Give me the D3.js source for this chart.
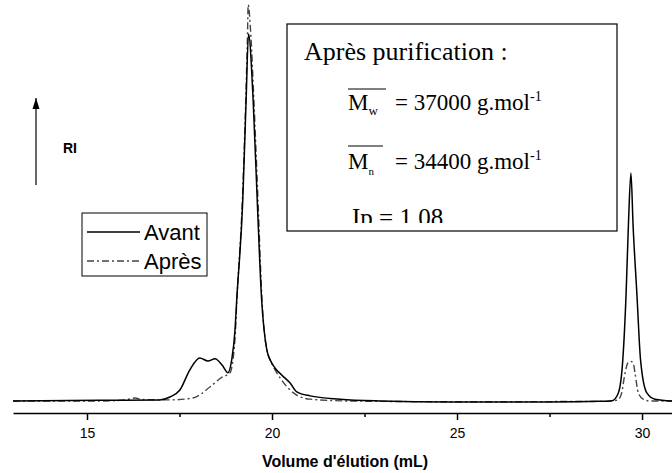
<!DOCTYPE html>
<html><head><meta charset="utf-8">
<script src="https://cdn.jsdelivr.net/npm/d3@7"></script>
<style>
html,body{margin:0;padding:0;background:#fff;}
svg{display:block;}
</style></head>
<body>
<svg id="chart" width="672" height="473"></svg>
<script>
// ---- data ----
const avantVol = [13.0,15.35,16.97,17.24,17.51,17.78,18.05,18.27,18.46,18.65,18.81,18.91,19.0,19.046,19.21,19.30,19.365,19.49,19.60,19.72,19.86,19.95,20.08,20.26,20.49,20.67,21.03,21.84,22.92,24.81,27.51,28.86,29.19,29.36,29.48,29.57,29.63,29.70,29.76,29.86,29.96,30.13,30.35,30.81];
const avantRI  = [0,0.2,0.3,1.1,3.0,8.5,11.7,10.9,11.5,9.8,7.7,11.2,19.3,27.5,54.8,82.0,100,82.0,54.8,27.5,13.9,11.2,9.0,7.1,4.9,2.5,1.4,0.5,0,-0.3,-0.3,-0.1,0.1,2.2,11.2,29.4,47.4,62.1,47.4,29.4,11.2,2.2,0.5,0];
const apresVol = [13.0,15.35,16.03,16.3,16.49,17.24,17.86,18.32,18.65,18.86,19.0,19.05,19.2,19.29,19.34,19.355,19.42,19.51,19.62,19.73,19.86,19.99,20.26,20.67,21.03,22.1,25.0,29.0,29.35,29.45,29.54,29.62,29.69,29.76,29.81,29.9,30.03,30.22,30.81];
const apresRI  = [0,0,0.3,0.8,0.4,0.3,0.8,3.8,6.5,7.6,17,27.5,55,82,101,108,101,82,55,27.5,13.9,10.4,5.7,1.6,0.5,0,-0.2,-0.1,0.3,2.2,7.6,10.4,10.8,10.4,7.6,2.2,0.5,0,0];
const xTicks = [15,20,25,30];
const xMinorTicks = [17.5,22.5,27.5];
const seriesNames = ["Avant","Après"];

const svg = d3.select("#chart");
const x = d3.scaleLinear().domain([13, 30.81]).range([13, 672]);
const y = d3.scaleLinear().domain([0, 100]).range([401, 34]);
const sans = "Arial, 'Liberation Sans', sans-serif";
const serif = "'Times New Roman', 'Liberation Serif', serif";

// axis
const axisY = 413;
const xAxis = d3.axisBottom(x).tickValues(xTicks).tickSize(7).tickSizeOuter(0).tickPadding(8).tickFormat(d3.format("d"));
const gx = svg.append("g").attr("transform", `translate(0,${axisY})`).call(xAxis);
gx.select(".domain").attr("stroke", "#000").attr("stroke-width", 1.5);
gx.selectAll(".tick line").attr("stroke", "#000").attr("stroke-width", 1.5);
gx.selectAll(".tick text").attr("font-family", sans).attr("font-size", 14).attr("fill", "#000");
const gm = svg.append("g").attr("transform", `translate(0,${axisY})`)
  .call(d3.axisBottom(x).tickValues(xMinorTicks).tickSize(4).tickSizeOuter(0).tickFormat(""));
gm.select(".domain").remove();
gm.selectAll(".tick line").attr("stroke", "#000").attr("stroke-width", 1.5);

svg.append("text").attr("x", 345).attr("y", 467).attr("text-anchor", "middle")
  .attr("font-family", sans).attr("font-weight", "bold").attr("font-size", 16)
  .text("Volume d'élution (mL)");

// curves
const line = d3.line().x(d => x(d[0])).y(d => y(d[1])).curve(d3.curveMonotoneX);
const avant = avantVol.map((v, i) => [v, avantRI[i]]);
const apres = apresVol.map((v, i) => [v, apresRI[i]]);
svg.append("path").datum(apres).attr("d", line).attr("fill", "none")
  .attr("stroke", "#444").attr("stroke-width", 1.4).attr("stroke-dasharray", "7,3,2,3");
svg.append("path").datum(avant).attr("d", line).attr("fill", "none")
  .attr("stroke", "#000").attr("stroke-width", 1.5);

// RI arrow
const defs = svg.append("defs");
defs.append("marker").attr("id", "arr").attr("viewBox", "0 0 10 10")
  .attr("refX", 10).attr("refY", 5).attr("markerWidth", 11).attr("markerHeight", 11)
  .attr("markerUnits", "userSpaceOnUse").attr("orient", "auto")
  .append("path").attr("d", "M0,1.8 L10,5 L0,8.2 Z").attr("fill", "#000");
defs.append("clipPath").attr("id", "ipclip").append("rect")
  .attr("x", 287).attr("y", 24).attr("width", 330).attr("height", 199);
svg.append("line").attr("x1", 36).attr("y1", 185).attr("x2", 36).attr("y2", 98)
  .attr("stroke", "#000").attr("stroke-width", 1.2).attr("marker-end", "url(#arr)");
svg.append("text").attr("x", 70).attr("y", 153).attr("text-anchor", "middle")
  .attr("font-family", sans).attr("font-weight", "bold").attr("font-size", 14)
  .text("RI");

// legend
const lg = svg.append("g");
lg.append("rect").attr("x", 82).attr("y", 213).attr("width", 125).attr("height", 63)
  .attr("fill", "#fff").attr("stroke", "#000").attr("stroke-width", 1);
const legY = [232, 261];
seriesNames.forEach((name, i) => {
  lg.append("line").attr("x1", 87).attr("x2", 140).attr("y1", legY[i]).attr("y2", legY[i])
    .attr("stroke", i === 0 ? "#000" : "#444").attr("stroke-width", 1.5)
    .attr("stroke-dasharray", i === 0 ? null : "7,3,2,3");
  lg.append("text").attr("x", 144).attr("y", legY[i] + 8)
    .attr("font-family", sans).attr("font-size", 22).text(name);
});

// info box
const ib = svg.append("g");
ib.append("rect").attr("x", 287).attr("y", 24).attr("width", 330).attr("height", 207)
  .attr("fill", "#fff").attr("stroke", "#000").attr("stroke-width", 1.2);
ib.append("text").attr("x", 304).attr("y", 60).attr("font-family", serif).attr("font-size", 26).text("Après purification :");
// Mw
ib.append("line").attr("x1", 348).attr("x2", 386).attr("y1", 89).attr("y2", 89).attr("stroke", "#000").attr("stroke-width", 1);
const t1 = ib.append("text").attr("x", 348).attr("y", 110).attr("font-family", serif).attr("font-size", 23);
t1.append("tspan").text("M");
t1.append("tspan").attr("font-size", 13).attr("dy", 5).text("w");
t1.append("tspan").attr("x", 395).attr("dy", -5).text("= 37000 g.mol");
t1.append("tspan").attr("font-size", 14).attr("dy", -9).text("-1");
// Mn
ib.append("line").attr("x1", 348).attr("x2", 383).attr("y1", 146).attr("y2", 146).attr("stroke", "#000").attr("stroke-width", 1);
const t2 = ib.append("text").attr("x", 348).attr("y", 169).attr("font-family", serif).attr("font-size", 23);
t2.append("tspan").text("M");
t2.append("tspan").attr("font-size", 11).attr("dy", 6).text("n");
t2.append("tspan").attr("x", 395).attr("dy", -6).text("= 34400 g.mol");
t2.append("tspan").attr("font-size", 14).attr("dy", -9).text("-1");
// Ip (bottom clipped as in the reference)
ib.append("text").attr("x", 352).attr("y", 226).attr("clip-path", "url(#ipclip)")
  .attr("font-family", serif).attr("font-size", 25).text("Ip = 1.08");
</script>
</body></html>
